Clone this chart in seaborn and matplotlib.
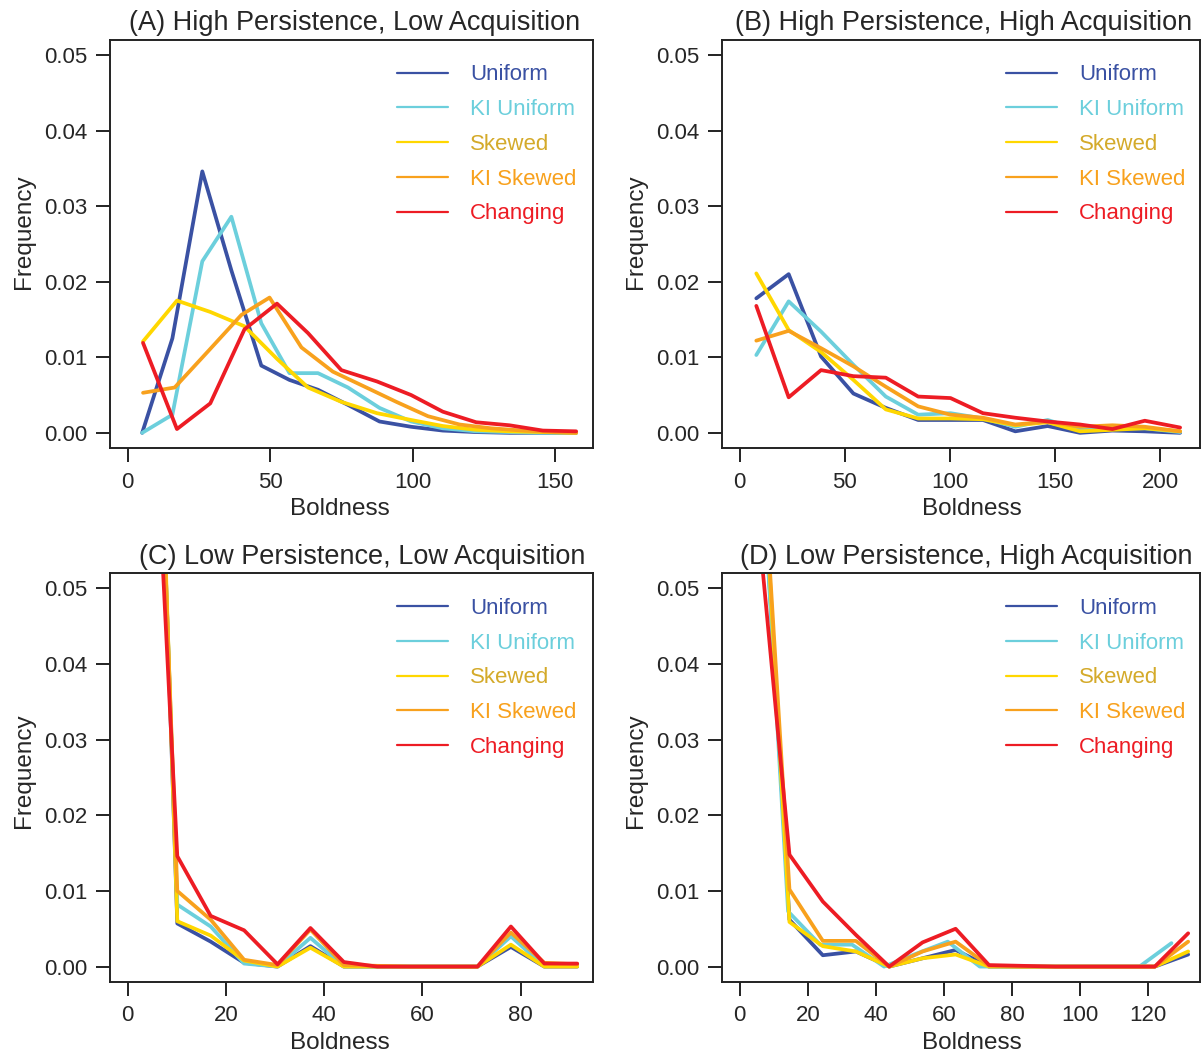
import pandas as pd
import matplotlib.pyplot as plt
import seaborn as sns
from matplotlib.lines import Line2D

# series names and colours
series = ["Uniform", "KI Uniform", "Skewed", "KI Skewed", "Changing"]
line_colors = ["#3A51A3", "#6CCFDC", "#FFD700", "#F8A11D", "#ED1C24"]
text_colors = ["#3A51A3", "#6CCFDC", "#D4AA2A", "#F8A11D", "#ED1C24"]

titles = ["(A) High Persistence, Low Acquisition",
          "(B) High Persistence, High Acquisition",
          "(C) Low Persistence, Low Acquisition",
          "(D) Low Persistence, High Acquisition"]

# (A) High Persistence, Low Acquisition
a_x_uni = [5.1, 15.7, 26.2, 36.4, 46.9, 56.8, 66.8, 77.3, 88.4, 99.5, 110.6, 122.3, 134.0, 145.7, 157.4]
a_x_skw = [5.4, 17.3, 29.0, 41.0, 52.4, 63.3, 75.0, 87.5, 99.5, 110.6, 122.3, 134.0, 145.7, 157.4]
a_x_kis = [5.4, 16.5, 28.0, 39.9, 49.8, 61.0, 72.0, 83.2, 94.3, 105.4, 116.5, 127.6, 138.7, 149.8, 157.4]
a_uniform = [0.0000, 0.0125, 0.0346, 0.0215, 0.0089, 0.0070, 0.0057, 0.0037, 0.0015, 0.0008, 0.0003, 0.0001, 0.0000, 0.0000, 0.0000]
a_ki_uniform = [0.0000, 0.0024, 0.0227, 0.0286, 0.0145, 0.0079, 0.0079, 0.0060, 0.0033, 0.0015, 0.0006, 0.0002, 0.0001, 0.0000, 0.0000]
a_skewed = [0.0121, 0.0175, 0.0160, 0.0141, 0.0098, 0.0060, 0.0041, 0.0026, 0.0017, 0.0009, 0.0004, 0.0002, 0.0001, 0.0000]
a_ki_skewed = [0.0053, 0.0060, 0.0107, 0.0156, 0.0179, 0.0113, 0.0081, 0.0061, 0.0041, 0.0022, 0.0011, 0.0006, 0.0003, 0.0001, 0.0000]
a_changing = [0.0119, 0.0005, 0.0039, 0.0137, 0.0171, 0.0132, 0.0083, 0.0068, 0.0050, 0.0028, 0.0014, 0.0010, 0.0003, 0.0002]

# (B) High Persistence, High Acquisition
b_x = [7.9, 23.3, 38.7, 54.1, 69.5, 84.9, 100.3, 115.7, 131.1, 146.5, 161.9, 177.3, 192.7, 209.5]
b_uniform = [0.0178, 0.0210, 0.0101, 0.0052, 0.0033, 0.0017, 0.0017, 0.0017, 0.0002, 0.0009, 0.0000, 0.0003, 0.0002, 0.0000]
b_ki_uniform = [0.0103, 0.0174, 0.0134, 0.0090, 0.0048, 0.0024, 0.0026, 0.0019, 0.0008, 0.0017, 0.0004, 0.0006, 0.0006, 0.0001]
b_skewed = [0.0211, 0.0136, 0.0107, 0.0070, 0.0031, 0.0019, 0.0019, 0.0018, 0.0010, 0.0014, 0.0002, 0.0004, 0.0006, 0.0002]
b_ki_skewed = [0.0122, 0.0135, 0.0112, 0.0088, 0.0061, 0.0035, 0.0024, 0.0020, 0.0011, 0.0015, 0.0008, 0.0010, 0.0008, 0.0002]
b_changing = [0.0168, 0.0047, 0.0083, 0.0075, 0.0073, 0.0048, 0.0046, 0.0026, 0.0020, 0.0015, 0.0011, 0.0005, 0.0016, 0.0007]

# (C) Low Persistence, Low Acquisition
c_x = [3.3, 10.1, 16.9, 23.7, 30.5, 37.2, 44.0, 50.8, 57.6, 64.4, 71.2, 78.0, 84.8, 91.5]
c_uniform = [0.140, 0.0057, 0.0033, 0.0005, 0.0000, 0.0027, 0.0000, 0.0000, 0.0000, 0.0000, 0.0000, 0.0026, 0.0000, 0.0000]
c_ki_uniform = [0.135, 0.0082, 0.0053, 0.0004, 0.0000, 0.0038, 0.0000, 0.0000, 0.0000, 0.0000, 0.0000, 0.0040, 0.0000, 0.0002]
c_skewed = [0.142, 0.0060, 0.0041, 0.0008, 0.0000, 0.0025, 0.0000, 0.0000, 0.0000, 0.0000, 0.0000, 0.0029, 0.0000, 0.0000]
c_ki_skewed = [0.130, 0.0100, 0.0062, 0.0009, 0.0002, 0.0049, 0.0002, 0.0001, 0.0000, 0.0000, 0.0000, 0.0045, 0.0005, 0.0003]
c_changing = [0.103, 0.0146, 0.0067, 0.0048, 0.0003, 0.0051, 0.0006, 0.0000, 0.0000, 0.0000, 0.0000, 0.0053, 0.0004, 0.0004]

# (D) Low Persistence, High Acquisition
d_x = [4.85, 14.6, 24.4, 34.1, 43.9, 53.7, 63.4, 73.2, 82.9, 92.7, 102.4, 112.2, 121.9, 131.7]
d_x_kiu = [4.85, 14.2, 23.6, 33.0, 42.4, 51.8, 61.1, 70.5, 79.9, 89.3, 98.7, 108.0, 117.4, 126.8]
d_uniform = [0.080, 0.0062, 0.0015, 0.0020, 0.0000, 0.0011, 0.0022, 0.0000, 0.0000, 0.0000, 0.0000, 0.0000, 0.0000, 0.0016]
d_ki_uniform = [0.080, 0.0073, 0.0029, 0.0029, 0.0000, 0.0017, 0.0033, 0.0000, 0.0000, 0.0000, 0.0000, 0.0000, 0.0000, 0.0031]
d_skewed = [0.083, 0.0059, 0.0027, 0.0020, 0.0000, 0.0011, 0.0016, 0.0000, 0.0000, 0.0000, 0.0000, 0.0000, 0.0000, 0.0020]
d_ki_skewed = [0.082, 0.0102, 0.0034, 0.0034, 0.0000, 0.0020, 0.0033, 0.0001, 0.0000, 0.0000, 0.0000, 0.0000, 0.0000, 0.0033]
d_changing = [0.0615, 0.0148, 0.0086, 0.0042, 0.0000, 0.0032, 0.0050, 0.0002, 0.0001, 0.0000, 0.0000, 0.0000, 0.0000, 0.0044]

panels = [
    [(a_x_uni, a_uniform), (a_x_uni, a_ki_uniform), (a_x_skw, a_skewed), (a_x_kis, a_ki_skewed), (a_x_skw, a_changing)],
    [(b_x, b_uniform), (b_x, b_ki_uniform), (b_x, b_skewed), (b_x, b_ki_skewed), (b_x, b_changing)],
    [(c_x, c_uniform), (c_x, c_ki_uniform), (c_x, c_skewed), (c_x, c_ki_skewed), (c_x, c_changing)],
    [(d_x, d_uniform), (d_x_kiu, d_ki_uniform), (d_x, d_skewed), (d_x, d_ki_skewed), (d_x, d_changing)],
]
xlims = [(-6.2, 163.3), (-8.4, 219.0), (-3.6, 94.7), (-5.2, 135.2)]
xticks = [[0, 50, 100, 150], [0, 50, 100, 150, 200], [0, 20, 40, 60, 80], [0, 20, 40, 60, 80, 100, 120]]
positions = [[0.0915, 0.5746, 0.4018, 0.3875], [0.6007, 0.5746, 0.3977, 0.3875],
             [0.0915, 0.0677, 0.4018, 0.3878], [0.6007, 0.0677, 0.3977, 0.3878]]
title_x = [0.507, 0.506, 0.523, 0.511]
xlabel_x = [0.476, 0.523, 0.476, 0.523]
ylabel_y = [0.53, 0.53, 0.516, 0.516]

sns.set_style("ticks")
plt.rcParams["font.family"] = ["Liberation Sans", "DejaVu Sans"]

fig = plt.figure(figsize=(12.02, 10.53), dpi=100)

for i in range(4):
    ax = fig.add_axes(positions[i])
    rows = []
    for name, (xs, ys) in zip(series, panels[i]):
        for xv, yv in zip(xs, ys):
            rows.append({"Boldness": xv, "Frequency": yv, "Series": name})
    df = pd.DataFrame(rows)
    sns.lineplot(data=df, x="Boldness", y="Frequency", hue="Series", hue_order=series,
                 palette=line_colors, estimator=None, sort=False, lw=2.7, ax=ax, legend=False)
    ax.set_xlim(*xlims[i])
    ax.set_ylim(-0.002, 0.052)
    ax.set_xticks(xticks[i])
    ax.set_yticks([0.0, 0.01, 0.02, 0.03, 0.04, 0.05])
    ax.set_yticklabels(["0.00", "0.01", "0.02", "0.03", "0.04", "0.05"])
    ax.tick_params(axis="both", labelsize=16, length=10, width=1.4, color="#222222")
    ax.tick_params(axis="x", pad=7)
    ax.tick_params(axis="y", pad=6)
    for s in ax.spines.values():
        s.set_linewidth(1.4)
        s.set_color("#222222")
    ax.set_xlabel("Boldness", fontsize=17.5, labelpad=4)
    ax.xaxis.label.set_x(xlabel_x[i])
    ax.set_ylabel("Frequency", fontsize=17.5, labelpad=7)
    ax.yaxis.label.set_y(ylabel_y[i])
    ax.set_title(titles[i], fontsize=19.5, pad=7)
    ax.title.set_x(title_x[i])
    handles = [Line2D([0], [0], color=c, lw=1.6) for c in line_colors]
    ax.legend(handles, series, loc="upper left", bbox_to_anchor=(0.575, 0.962),
              frameon=False, fontsize=16, handlelength=2.3, handletextpad=1.0,
              labelspacing=0.62, borderaxespad=0, labelcolor=text_colors)

fig.savefig("out.png", dpi=100)
